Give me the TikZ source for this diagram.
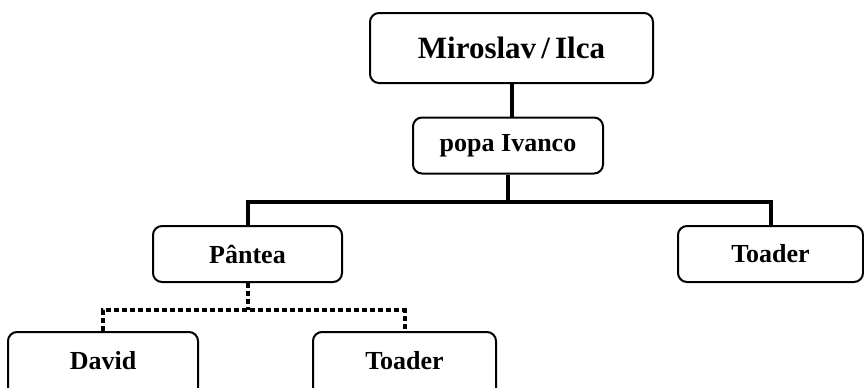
\documentclass[tikz,border=0pt]{standalone}
\usepackage{fontspec}
\setmainfont{Liberation Serif}
\usepackage{xcolor}
\usetikzlibrary{calc}
\definecolor{ink}{HTML}{000000}
\definecolor{paper}{HTML}{FFFFFF}
\tikzset{
  person/.style={draw=ink,fill=paper,line width=1pt,rounded corners=4.5pt,
    minimum height=28pt,inner sep=0pt,font=\fontsize{13}{15}\selectfont\bfseries},
  link/.style={draw=ink,line width=2pt},
  dotlink/.style={draw=ink,line width=2pt,dash pattern=on 2.5pt off 1.5pt}
}
\begin{document}
\begin{tikzpicture}[x=0.5pt,y=-0.5pt]
  \useasboundingbox (0,0) rectangle (864,387);
  \clip (0,0) rectangle (864,387);
  \node[person,minimum width=141.5pt,minimum height=35pt,
        font=\fontsize{15.5}{18}\selectfont\bfseries] (miroslav) at (511.5,48) {Miroslav\,/\,Ilca};
  \node[person,minimum width=95pt] (popa) at (508,145.5) {popa Ivanco};
  \node[person,minimum width=94.5pt] (pantea) at (247.5,254) {Pântea};
  \node[person,minimum width=92.5pt] (toader) at (770.5,254) {Toader};
  \node[person,minimum width=95pt,minimum height=34pt,text depth=6pt] (david) at (103,366) {David};
  \node[person,minimum width=91.5pt,minimum height=34pt,text depth=6pt] (toaderjr) at (404.5,366) {Toader};
  % solid lines of descent
  \draw[link] (miroslav.south) -- (miroslav.south |- popa.north);
  \coordinate (fork) at ($(popa.south)+(0,27)$);
  \draw[link] (popa.south) -- (fork);
  \draw[link] (pantea.north) |- (fork) -| (toader.north);
  % dotted lines of descent
  \coordinate (dotfork) at ($(pantea.south)+(0,27)$);
  \draw[dotlink] (pantea.south) -- (dotfork);
  \draw[dotlink] (david.north) |- (dotfork) -| (toaderjr.north);
\end{tikzpicture}
\end{document}
